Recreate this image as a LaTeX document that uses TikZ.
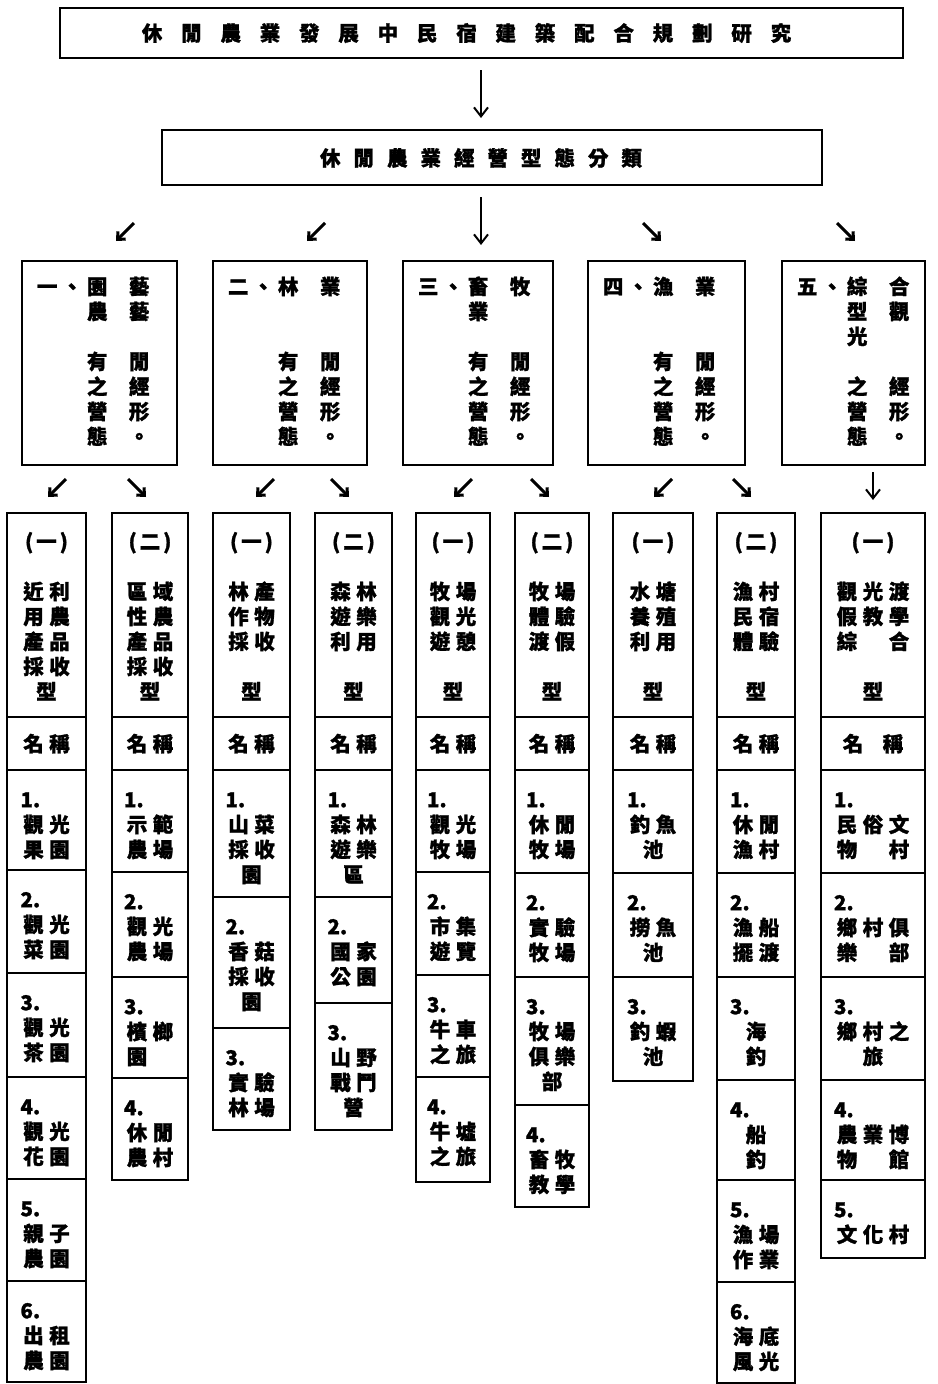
\documentclass[tikz,border=0pt]{standalone}
\usepackage{fontspec}
\setmainfont{Noto Sans CJK TC}[BoldFeatures={FakeBold=1.3}]
\usetikzlibrary{arrows.meta,calc}
\newcommand\zS{\rule[-6pt]{0pt}{25pt}}
\newcommand\zC[1]{\makebox[26pt]{#1}}
\newcommand\zW[1]{\makebox[52pt]{#1}}
\newcommand\zX[1]{\makebox[78pt]{#1}}
\newcommand\zP[2]{\zS\zC{#1}\zC{#2}}
\newcommand\zT[3]{\zS\zC{#1}\zC{#2}\zC{#3}}
\newcommand\zM[1]{\zS\zW{#1}}
\newcommand\zN[1]{\zS #1}
\newcommand\zO[1]{\zS(\kern3pt #1\kern3pt )}
\newcommand\zK[4]{\zS\makebox[25pt]{#1}\makebox[25pt]{#2}\makebox[25pt]{#3}\hspace{17pt}\makebox[25pt]{#4}}
\newcommand\zG[1]{\makebox[39.3pt]{#1}}
\newcommand\zF[1]{\makebox[33.5pt]{#1}}
\newcommand\zbox[5]{\node[box, minimum width={#4-#2}, minimum height={#5-#3}] (#1) at ({(#2+#4)/2},{(#3+#5)/2}) {};}
\newcommand\zitem[6]{\zbox{#1}{#2}{#3}{#4}{#5}\node[txt, align=left, anchor=north] (#1t) at ({(#2+#4)/2},{#3+18}) {#6};}
\newcommand\zhead[5]{\zbox{#1h}{#2}{513}{#3}{717}%
\node[txt, align=center, anchor=north] (#1ht) at ({(#2+#3)/2},530) {#4};%
\zbox{#1n}{#2}{717}{#3}{770}%
\node[txt] (#1nt) at ({(#2+#3)/2},745) {#5};}
\newcommand\zcat[4]{\zbox{#1}{#2}{261}{#3}{465}%
\node[txt, align=left, anchor=north west] (#1t) at ({#2+12.5},275) {#4};}
\begin{document}
\begin{tikzpicture}[x=1pt,y=-1pt,
  box/.style={draw, line width=2.6pt, inner sep=0pt, outer sep=0pt},
  txt/.style={inner sep=0pt, font=\bfseries\fontsize{20.5}{25}\selectfont},
  arr/.style={line width=3pt, -{Straight Barb[length=6pt,width=11pt]}},
  bigarr/.style={line width=2pt, -{Straight Barb[length=9pt,width=14pt]}},
]
\useasboundingbox (0,0) rectangle (937,1384);
\fill[white] (0,0) rectangle (937,1384);

% titles
\zbox{title}{60}{8}{903}{58}
\node[txt] (titlet) at (466.5,33) {\zG 休\zG 閒\zG 農\zG 業\zG 發\zG 展\zG 中\zG 民\zG 宿\zG 建\zG 築\zG 配\zG 合\zG 規\zG 劃\zG 研\zG 究};
\zbox{class}{162}{130}{822}{185}
\node[txt] (classt) at (481,158) {\zF 休\zF 閒\zF 農\zF 業\zF 經\zF 營\zF 型\zF 態\zF 分\zF 類};

% categories
\zcat{b1}{22}{177}{\zK 一、園藝\\\zK{}{}農藝\\\zS\\\zK{}{}有閒\\\zK{}{}之經\\\zK{}{}營形\\\zK{}{}態。}
\zcat{b2}{213}{367}{\zK 二、林業\\\zS\\\zS\\\zK{}{}有閒\\\zK{}{}之經\\\zK{}{}營形\\\zK{}{}態。}
\zcat{b3}{403}{553}{\zK 三、畜牧\\\zK{}{}業{}\\\zS\\\zK{}{}有閒\\\zK{}{}之經\\\zK{}{}營形\\\zK{}{}態。}
\zcat{b4}{588}{745}{\zK 四、漁業\\\zS\\\zS\\\zK{}{}有閒\\\zK{}{}之經\\\zK{}{}營形\\\zK{}{}態。}
\zcat{b5}{782}{925}{\zK 五、綜合\\\zK{}{}型觀\\\zK{}{}光{}\\\zS\\\zK{}{}之經\\\zK{}{}營形\\\zK{}{}態。}

% main arrows
\coordinate (ax) at (481,0);
\draw[bigarr, shorten <=12pt, shorten >=12pt] (title.south -| ax) -- (class.north -| ax);
\draw[bigarr, shorten <=12pt, shorten >=16pt] (class.south -| ax) -- (b3.north -| ax);
\coordinate (d1s) at (134,223); \coordinate (d1e) at (116,241);
\coordinate (d2s) at (325,223); \coordinate (d2e) at (307,241);
\coordinate (d4s) at (643,223); \coordinate (d4e) at (661,241);
\coordinate (d5s) at (837,223); \coordinate (d5e) at (855,241);
\draw[arr] (d1s) -- (d1e);
\draw[arr] (d2s) -- (d2e);
\draw[arr] (d4s) -- (d4e);
\draw[arr] (d5s) -- (d5e);

% level 3 arrows
\coordinate (e1s) at (66,479); \coordinate (e1e) at (48,497);
\coordinate (e2s) at (128,479); \coordinate (e2e) at (146,497);
\coordinate (e3s) at (274,479); \coordinate (e3e) at (256,497);
\coordinate (e4s) at (331,479); \coordinate (e4e) at (349,497);
\coordinate (e5s) at (472,479); \coordinate (e5e) at (454,497);
\coordinate (e6s) at (531,479); \coordinate (e6e) at (549,497);
\coordinate (e7s) at (672,479); \coordinate (e7e) at (654,497);
\coordinate (e8s) at (733,479); \coordinate (e8e) at (751,497);
\foreach \i in {1,...,8} {\draw[arr] (e\i s) -- (e\i e);}
\draw[bigarr, shorten <=7pt, shorten >=12pt] (b5.south -| 873,0) -- (873,512);

% column headers
\zhead{c1}{7}{86}{\zO 一\\\zS\\\zP 近利\\\zP 用農\\\zP 產品\\\zP 採收\\\zS 型}{\zP 名稱}
\zhead{c2}{112}{188}{\zO 二\\\zS\\\zP 區域\\\zP 性農\\\zP 產品\\\zP 採收\\\zS 型}{\zP 名稱}
\zhead{c3}{213}{290}{\zO 一\\\zS\\\zP 林產\\\zP 作物\\\zP 採收\\\zS\\\zS 型}{\zP 名稱}
\zhead{c4}{315}{392}{\zO 二\\\zS\\\zP 森林\\\zP 遊樂\\\zP 利用\\\zS\\\zS 型}{\zP 名稱}
\zhead{c5}{416}{490}{\zO 一\\\zS\\\zP 牧場\\\zP 觀光\\\zP 遊憩\\\zS\\\zS 型}{\zP 名稱}
\zhead{c6}{515}{589}{\zO 二\\\zS\\\zP 牧場\\\zP 體驗\\\zP 渡假\\\zS\\\zS 型}{\zP 名稱}
\zhead{c7}{613}{693}{\zO 一\\\zS\\\zP 水塘\\\zP 養殖\\\zP 利用\\\zS\\\zS 型}{\zP 名稱}
\zhead{c8}{717}{795}{\zO 二\\\zS\\\zP 漁村\\\zP 民宿\\\zP 體驗\\\zS\\\zS 型}{\zP 名稱}
\zhead{c9}{821}{925}{\zO 一\\\zS\\\zT 觀光渡\\\zT 假教學\\\zT 綜{}合\\\zS\\\zS 型}{\zS\makebox[40pt]{名}\makebox[40pt]{稱}}

% column 1
\zitem{c1a}{7}{770}{86}{870}{\zN{1.}\\\zP 觀光\\\zP 果園}
\zitem{c1b}{7}{870}{86}{973}{\zN{2.}\\\zP 觀光\\\zP 菜園}
\zitem{c1c}{7}{973}{86}{1077}{\zN{3.}\\\zP 觀光\\\zP 茶園}
\zitem{c1d}{7}{1077}{86}{1179}{\zN{4.}\\\zP 觀光\\\zP 花園}
\zitem{c1e}{7}{1179}{86}{1281}{\zN{5.}\\\zP 親子\\\zP 農園}
\zitem{c1f}{7}{1281}{86}{1382}{\zN{6.}\\\zP 出租\\\zP 農園}
% column 2
\zitem{c2a}{112}{770}{188}{872}{\zN{1.}\\\zP 示範\\\zP 農場}
\zitem{c2b}{112}{872}{188}{977}{\zN{2.}\\\zP 觀光\\\zP 農場}
\zitem{c2c}{112}{977}{188}{1078}{\zN{3.}\\\zP 檳榔\\\zS\zC{園}}
\zitem{c2d}{112}{1078}{188}{1180}{\zN{4.}\\\zP 休閒\\\zP 農村}
% column 3
\zitem{c3a}{213}{770}{290}{897}{\zN{1.}\\\zP 山菜\\\zP 採收\\\zM 園}
\zitem{c3b}{213}{897}{290}{1028}{\zN{2.}\\\zP 香菇\\\zP 採收\\\zM 園}
\zitem{c3c}{213}{1028}{290}{1130}{\zN{3.}\\\zP 實驗\\\zP 林場}
% column 4
\zitem{c4a}{315}{770}{392}{897}{\zN{1.}\\\zP 森林\\\zP 遊樂\\\zM 區}
\zitem{c4b}{315}{897}{392}{1003}{\zN{2.}\\\zP 國家\\\zP 公園}
\zitem{c4c}{315}{1003}{392}{1130}{\zN{3.}\\\zP 山野\\\zP 戰鬥\\\zM 營}
% column 5
\zitem{c5a}{416}{770}{490}{872}{\zN{1.}\\\zP 觀光\\\zP 牧場}
\zitem{c5b}{416}{872}{490}{975}{\zN{2.}\\\zP 市集\\\zP 遊覽}
\zitem{c5c}{416}{975}{490}{1077}{\zN{3.}\\\zP 牛車\\\zP 之旅}
\zitem{c5d}{416}{1077}{490}{1182}{\zN{4.}\\\zP 牛墟\\\zP 之旅}
% column 6
\zitem{c6a}{515}{770}{589}{873}{\zN{1.}\\\zP 休閒\\\zP 牧場}
\zitem{c6b}{515}{873}{589}{977}{\zN{2.}\\\zP 實驗\\\zP 牧場}
\zitem{c6c}{515}{977}{589}{1105}{\zN{3.}\\\zP 牧場\\\zP 俱樂\\\zM 部}
\zitem{c6d}{515}{1105}{589}{1207}{\zN{4.}\\\zP 畜牧\\\zP 教學}
% column 7
\zitem{c7a}{613}{770}{693}{873}{\zN{1.}\\\zP 釣魚\\\zM 池}
\zitem{c7b}{613}{873}{693}{977}{\zN{2.}\\\zP 撈魚\\\zM 池}
\zitem{c7c}{613}{977}{693}{1081}{\zN{3.}\\\zP 釣蝦\\\zM 池}
% column 8
\zitem{c8a}{717}{770}{795}{873}{\zN{1.}\\\zP 休閒\\\zP 漁村}
\zitem{c8b}{717}{873}{795}{977}{\zN{2.}\\\zP 漁船\\\zP 擺渡}
\zitem{c8c}{717}{977}{795}{1080}{\zN{3.}\\\zM 海\\\zM 釣}
\zitem{c8d}{717}{1080}{795}{1180}{\zN{4.}\\\zM 船\\\zM 釣}
\zitem{c8e}{717}{1180}{795}{1282}{\zN{5.}\\\zP 漁場\\\zP 作業}
\zitem{c8f}{717}{1282}{795}{1383}{\zN{6.}\\\zP 海底\\\zP 風光}
% column 9
\zitem{c9a}{821}{770}{925}{873}{\zN{1.}\\\zT 民俗文\\\zT 物{}村}
\zitem{c9b}{821}{873}{925}{977}{\zN{2.}\\\zT 鄉村俱\\\zT 樂{}部}
\zitem{c9c}{821}{977}{925}{1080}{\zN{3.}\\\zT 鄉村之\\\zS\zX{旅}}
\zitem{c9d}{821}{1080}{925}{1180}{\zN{4.}\\\zT 農業博\\\zT 物{}館}
\zitem{c9e}{821}{1180}{925}{1258}{\zN{5.}\\\zT 文化村}
\end{tikzpicture}
\end{document}
